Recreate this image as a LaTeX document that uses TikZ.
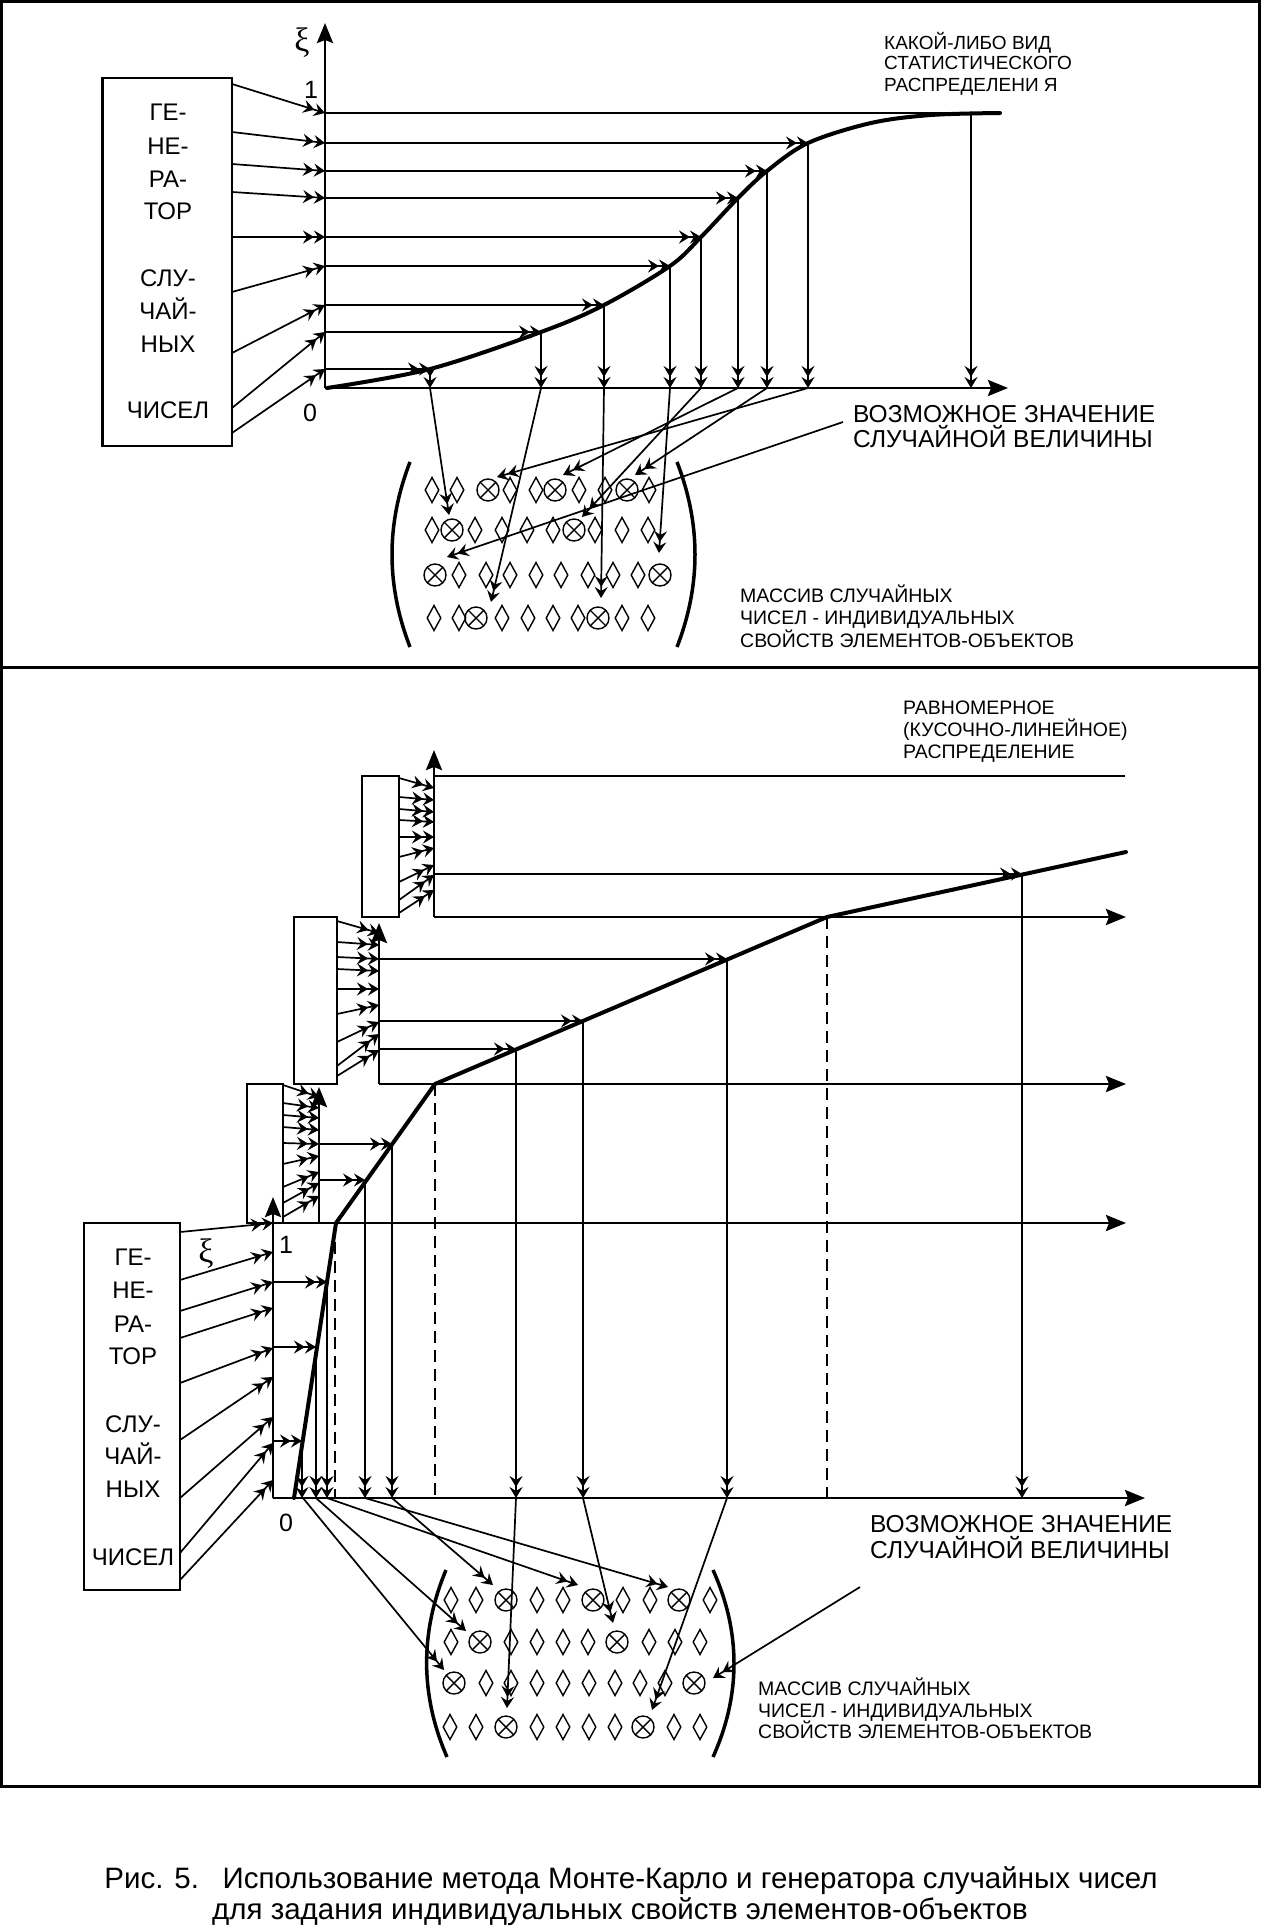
\documentclass[tikz,border=0pt]{standalone}
\usepackage{fontspec}
\setmainfont{Liberation Sans}
\newfontfamily\grk{Liberation Serif}
\usetikzlibrary{arrows.meta}
\newcommand\fsz[1]{\fontsize{#1}{#1}\selectfont}
\tikzset{
  frm/.style={line width=3pt},
  gbox/.style={draw,line width=2.8pt,inner sep=0pt},
  thinln/.style={line width=1.7pt},
  dbl/.style={line width=1.7pt,-{Stealth[length=11pt,width=13pt,inset=4pt]Stealth[length=11pt,width=13pt,inset=4pt]}},
  axln/.style={line width=2.8pt,-{Stealth[length=20pt,width=16pt,inset=3pt]}},
  crv/.style={line width=4pt,line join=round,line cap=round},
  dashln/.style={line width=2pt,dash pattern=on 12pt off 7pt},
  brk/.style={line width=3.5pt},
  symln/.style={line width=1.4pt},
  gtxt/.style={anchor=base,inner sep=0pt,font=\fsz{24}},
  ltxt/.style={anchor=base west,inner sep=0pt},
  dmd/.pic={\draw[symln] (0,-12.5)--(6.8,0)--(0,12.5)--(-6.8,0)--cycle;},
  crs/.pic={\draw[symln] (0,0) circle[radius=11pt]; \draw[symln] (-7.8,-7.8)--(7.8,7.8) (-7.8,7.8)--(7.8,-7.8);}
}
\begin{document}
\begin{tikzpicture}[x=1pt,y=-1pt]
\useasboundingbox (0,0) rectangle (1261,1927);
\fill[white] (0,0) rectangle (1261,1927);
% ---------- frame
\draw[frm] (1.5,1.5) rectangle (1259.5,1786);
\draw[frm] (0,667) -- (1261,667);

% =================== TOP PANEL ===================
\node[gbox,minimum width=129.5pt,minimum height=368pt] (genA) at (167.25,262) {};
\foreach \t/\b in {ГЕ-/120,НЕ-/154,РА-/187,ТОР/219,СЛУ-/286,ЧАЙ-/319,НЫХ/352,ЧИСЕЛ/418}
  \node[gtxt] (ta\b) at (168,\b) {\t};

\coordinate (O1) at (325,388);
\coordinate (Y1) at (325,23);
\coordinate (X1) at (1008,388);

\foreach \s/\e [count=\i] in {84/113,132/143,164/171,192/198,237/237,292/266,353/305,408/332,433/369}{
  \coordinate (ga\i) at (232,\s); \coordinate (gb\i) at (325,\e);
  \draw[dbl] (ga\i) -- (gb\i);}

\coordinate (h0a) at (325,113); \coordinate (h0b) at (1000,113);
\draw[thinln] (h0a) -- (h0b);
\foreach \y/\x [count=\i] in {143/808,171/767,198/738,237/701,266/670,305/604,332/541,369/430}{
  \coordinate (ha\i) at (325,\y); \coordinate (hb\i) at (\x,\y); \coordinate (hc\i) at (\x,388);
  \draw[dbl] (ha\i) -- (hb\i);
  \draw[dbl] (hb\i) -- (hc\i);}
\coordinate (v0a) at (971,113); \coordinate (v0b) at (971,388);
\draw[dbl] (v0a) -- (v0b);

\draw[crv] plot[smooth,tension=0.55] coordinates {(327,388) (430,369) (541,332) (604,305) (670,266) (701,237) (738,198) (767,171) (808,143) (871,123) (931,115) (1000,113)};

\draw[axln] (O1) -- (Y1);
\draw[axln] (O1) -- (X1);

\node[anchor=center,inner sep=0pt,font=\grk\fsz{34}] (xiA) at (302,43) {ξ};
\node[anchor=base,inner sep=0pt,font=\fsz{25}] (oneA) at (311,98) {1};
\node[anchor=base,inner sep=0pt,font=\fsz{25}] (zeroA) at (310,421) {0};

\node[ltxt,font=\fsz{19}] (dA1) at (884,49) {КАКОЙ-ЛИБО ВИД};
\node[ltxt,font=\fsz{19}] (dA2) at (884,70) {СТАТИСТИЧЕСКОГО};
\node[ltxt,font=\fsz{19}] (dA3) at (884,92) {РАСПРЕДЕЛЕНИ Я};

\node[ltxt,font=\fsz{24.5}] (vA1) at (853,422) {ВОЗМОЖНОЕ ЗНАЧЕНИЕ};
\node[ltxt,font=\fsz{24.5}] (vA2) at (853,447) {СЛУЧАЙНОЙ ВЕЛИЧИНЫ};

\node[ltxt,font=\fsz{19.5}] (mA1) at (740,602) {МАССИВ СЛУЧАЙНЫХ};
\node[ltxt,font=\fsz{19.5}] (mA2) at (740,624) {ЧИСЕЛ - ИНДИВИДУАЛЬНЫХ};
\node[ltxt,font=\fsz{19.5}] (mA3) at (740,647) {СВОЙСТВ ЭЛЕМЕНТОВ-ОБЪЕКТОВ};

% array (top)
\foreach \x in {432,457,510,536,579,605,649} \pic at (\x,490) {dmd};
\foreach \x in {488,555,627} \pic at (\x,490) {crs};
\foreach \x in {432,475,502,527,553,595,622,648} \pic at (\x,530) {dmd};
\foreach \x in {452,574} \pic at (\x,530) {crs};
\foreach \x in {459,486,510,536,561,588,613,638} \pic at (\x,575) {dmd};
\foreach \x in {435,660} \pic at (\x,575) {crs};
\foreach \x in {434,459,502,528,553,578,622,648} \pic at (\x,618) {dmd};
\foreach \x in {476,598} \pic at (\x,618) {crs};

\coordinate (bLa) at (410,462); \coordinate (bLb) at (410,647);
\coordinate (bRa) at (677,462); \coordinate (bRb) at (677,647);
\draw[brk] (bLa) .. controls (386,524) and (386,585) .. (bLb);
\draw[brk] (bRa) .. controls (701,524) and (701,585) .. (bRb);

\foreach \sx/\sy/\tx/\ty [count=\i] in {430/388/449/515,541/388/491/602,604/388/601/598,670/388/659/553,701/388/582/517,738/388/563/475,767/388/635/475,808/388/497/477,843/422/447/557}{
  \coordinate (ka\i) at (\sx,\sy); \coordinate (kb\i) at (\tx,\ty);
  \draw[dbl] (ka\i) -- (kb\i);}

% =================== BOTTOM PANEL ===================
\node[gbox,minimum width=37pt,minimum height=141pt] (box3) at (380.5,846.5) {};
\node[gbox,minimum width=43pt,minimum height=167pt] (box2) at (315.5,1000.5) {};
\node[gbox,minimum width=36pt,minimum height=139pt] (box1) at (265,1153.5) {};
\node[gbox,minimum width=96pt,minimum height=367pt] (genB) at (132,1406.5) {};
\foreach \t/\b in {ГЕ-/1265,НЕ-/1298,РА-/1332,ТОР/1364,СЛУ-/1432,ЧАЙ-/1464,НЫХ/1497,ЧИСЕЛ/1565}
  \node[gtxt] (tb\b) at (133,\b) {\t};

\coordinate (P3) at (434,917);  \coordinate (P3y) at (434,750);  \coordinate (P3x) at (1126,917);
\coordinate (P2) at (379,1084); \coordinate (P2y) at (379,923);  \coordinate (P2x) at (1126,1084);
\coordinate (P1) at (319,1223); \coordinate (P1y) at (319,1087); \coordinate (P1x) at (1126,1223);
\coordinate (P0) at (273,1498); \coordinate (P0y) at (273,1197); \coordinate (P0x) at (1145,1498);

% generator arrows
\foreach \s/\e [count=\i] in {778/788,797/800,809/812,820/822,837/837,857/848,882/865,900/875,913/890}{
  \coordinate (c3a\i) at (399,\s); \coordinate (c3b\i) at (434,\e); \draw[dbl] (c3a\i) -- (c3b\i);}
\foreach \s/\e [count=\i] in {921/933,942/945,957/959,969/971,989/989,1014/1005,1042/1022,1066/1034,1076/1050}{
  \coordinate (c2a\i) at (337,\s); \coordinate (c2b\i) at (379,\e); \draw[dbl] (c2a\i) -- (c2b\i);}
\foreach \s/\e [count=\i] in {1085/1097,1103/1108,1115/1118,1127/1130,1143/1144,1164/1156,1187/1172,1203/1183,1217/1196}{
  \coordinate (c1a\i) at (283,\s); \coordinate (c1b\i) at (319,\e); \draw[dbl] (c1a\i) -- (c1b\i);}
\foreach \s/\e [count=\i] in {1232/1223,1280/1252,1311/1282,1338/1308,1383/1348,1440/1377,1498/1417,1553/1443,1580/1480}{
  \coordinate (c0a\i) at (180,\s); \coordinate (c0b\i) at (273,\e); \draw[dbl] (c0a\i) -- (c0b\i);}

% thin xi=1 lines
\coordinate (t3a) at (434,776); \coordinate (t3b) at (1125,776); \draw[line width=1.2pt] (t3a) -- (t3b);
\coordinate (t0a) at (273,1223); \coordinate (t0b) at (319,1223); \draw[line width=1.2pt] (t0a) -- (t0b);

% horizontal arrows to the curve and verticals down
\foreach \ox/\y/\x [count=\i] in {273/1282/327,273/1347/316,273/1441/302,319/1144/392,319/1180/365,379/959/727,379/1021/583,379/1049/516,434/874/1022}{
  \coordinate (ra\i) at (\ox,\y); \coordinate (rb\i) at (\x,\y); \coordinate (rc\i) at (\x,1498);
  \draw[dbl] (ra\i) -- (rb\i);
  \draw[dbl] (rb\i) -- (rc\i);}

% dashed
\foreach \x/\y [count=\i] in {335/1223,435/1084,827/917}{
  \coordinate (da\i) at (\x,\y); \coordinate (db\i) at (\x,1498);
  \draw[dashln] (da\i) -- (db\i);}

% axes
\draw[axln] (P3) -- (P3y); \draw[axln] (P3) -- (P3x);
\draw[axln] (P2) -- (P2y); \draw[axln] (P2) -- (P2x);
\draw[axln] (P1) -- (P1y); \draw[axln] (P1) -- (P1x);
\draw[axln] (P0) -- (P0y); \draw[axln] (P0) -- (P0x);

% piecewise-linear curve
\coordinate (q0) at (294,1498); \coordinate (q1) at (336,1223); \coordinate (q2) at (435,1084);
\coordinate (q3) at (827,917); \coordinate (q4) at (1126,852);
\draw[crv] (q0) -- (q1) -- (q2) -- (q3) -- (q4);

\node[anchor=center,inner sep=0pt,font=\grk\fsz{34}] (xiB) at (206,1254) {ξ};
\node[anchor=base,inner sep=0pt,font=\fsz{25}] (oneB) at (286,1253) {1};
\node[anchor=base,inner sep=0pt,font=\fsz{25}] (zeroB) at (286,1531) {0};

\node[ltxt,font=\fsz{19.5}] (rB1) at (903,714) {РАВНОМЕРНОЕ};
\node[ltxt,font=\fsz{19.5}] (rB2) at (903,736) {(КУСОЧНО-ЛИНЕЙНОЕ)};
\node[ltxt,font=\fsz{19.5}] (rB3) at (903,758) {РАСПРЕДЕЛЕНИЕ};

\node[ltxt,font=\fsz{24.5}] (vB1) at (870,1532) {ВОЗМОЖНОЕ ЗНАЧЕНИЕ};
\node[ltxt,font=\fsz{24.5}] (vB2) at (870,1558) {СЛУЧАЙНОЙ ВЕЛИЧИНЫ};

\node[ltxt,font=\fsz{19.5}] (mB1) at (758,1695) {МАССИВ СЛУЧАЙНЫХ};
\node[ltxt,font=\fsz{19.5}] (mB2) at (758,1717) {ЧИСЕЛ - ИНДИВИДУАЛЬНЫХ};
\node[ltxt,font=\fsz{19.5}] (mB3) at (758,1738) {СВОЙСТВ ЭЛЕМЕНТОВ-ОБЪЕКТОВ};

% array (bottom)
\foreach \x in {451,476,537,563,623,650,710} \pic at (\x,1600) {dmd};
\foreach \x in {506,593,679} \pic at (\x,1600) {crs};
\foreach \x in {451,511,537,563,588,649,675,700} \pic at (\x,1642) {dmd};
\foreach \x in {480,617} \pic at (\x,1642) {crs};
\foreach \x in {486,511,537,563,589,615,640,665} \pic at (\x,1683) {dmd};
\foreach \x in {454,694} \pic at (\x,1683) {crs};
\foreach \x in {450,476,537,563,589,615,674,700} \pic at (\x,1727) {dmd};
\foreach \x in {506,643} \pic at (\x,1727) {crs};

\coordinate (eLa) at (446,1570); \coordinate (eLb) at (447,1757);
\coordinate (eRa) at (713,1570); \coordinate (eRb) at (713,1757);
\draw[brk] (eLa) .. controls (420,1632) and (420,1695) .. (eLb);
\draw[brk] (eRa) .. controls (741,1632) and (741,1695) .. (eRb);

\foreach \sx/\sy/\tx/\ty [count=\i] in {303/1498/444/1670,316/1498/466/1631,327/1498/578/1585,365/1498/668/1587,392/1498/493/1585,516/1498/507/1708,583/1498/613/1623,727/1498/652/1710,860/1587/713/1678}{
  \coordinate (la\i) at (\sx,\sy); \coordinate (lb\i) at (\tx,\ty);
  \draw[dbl] (la\i) -- (lb\i);}

% caption
\node[anchor=base,inner sep=0pt,font=\fsz{29.5}] (cap1) at (631,1888) {Рис. 5.\hspace{0.8em}Использование метода Монте-Карло и генератора случайных чисел};
\node[anchor=base,inner sep=0pt,font=\fsz{29.5}] (cap2) at (620,1919) {для задания индивидуальных свойств элементов-объектов};
\end{tikzpicture}
\end{document}
